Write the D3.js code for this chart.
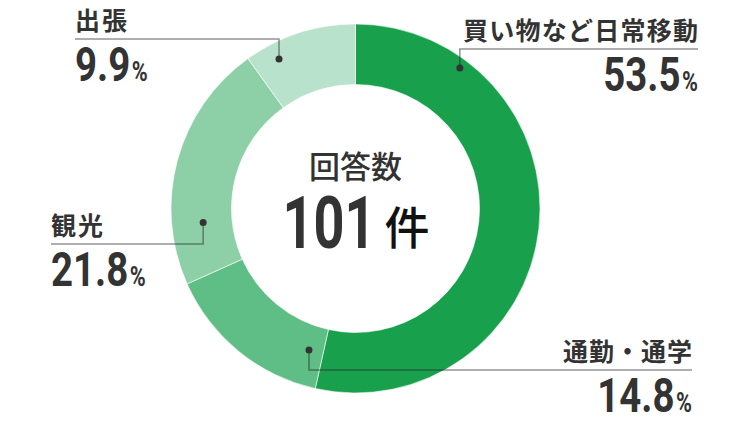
<!DOCTYPE html>
<html>
<head>
<meta charset="utf-8">
<script src="https://cdn.jsdelivr.net/npm/d3@7"></script>
<style>
  html, body { margin: 0; padding: 0; background: #fff; }
  svg { display: block; }
</style>
</head>
<body>
<div id="chart"></div>
<script>
// data
const categories = ['買い物など日常移動', '通勤・通学', '観光', '出張'];
const values = [53.5, 14.8, 21.8, 9.9];
const centerTitle = '回答数';
const centerCount = 101;
const centerUnit = '件';

const colors = ['#18a04d', '#5fbe85', '#8dd0a8', '#b9e2cc'];

// where each leader starts inside its slice (t = fraction of slice), and where its label goes
const labelLayout = [
    { t: 0.19, r: 175, lineY: 49, textX: 698, anchor: 'end', w: 235 },
    { t: 0.105, r: 149, lineY: 370, textX: 692, anchor: 'end', w: 129 },
    { t: 0.24, r: 153, lineY: 244, textX: 51, anchor: 'start', w: 52 },
    { t: 0.24, r: 168, lineY: 39, textX: 75, anchor: 'start', w: 52 }
];

const width = 750, height = 422;
const cx = 355.5, cy = 208.5;
const outerR = 184.5, innerR = 124;

const jpFont = '"Noto Sans CJK JP", "Noto Sans", sans-serif';
const numFont = 'Roboto, "Liberation Sans", sans-serif';
const textColor = '#333';

const svg = d3.select('#chart').append('svg')
    .attr('width', width)
    .attr('height', height);

const pie = d3.pie().sort(null).value(d => d.value);
const arcs = pie(categories.map((c, i) => ({ name: c, value: values[i] })));

const arc = d3.arc().innerRadius(innerR).outerRadius(outerR);

const donut = svg.append('g').attr('transform', `translate(${cx},${cy})`);
donut.selectAll('path')
    .data(arcs)
    .join('path')
    .attr('d', arc)
    .attr('fill', (d, i) => colors[i])
    .attr('stroke', '#fff')
    .attr('stroke-width', 0.6);

// leader lines + dots
const leaders = svg.append('g');
arcs.forEach((d, i) => {
    const L = labelLayout[i];
    const a = d.startAngle + L.t * (d.endAngle - d.startAngle);
    const px = cx + L.r * Math.sin(a);
    const py = cy - L.r * Math.cos(a);
    const farX = L.textX;

    leaders.append('path')
        .attr('d', d3.line()([[px, py], [px, L.lineY], [farX, L.lineY]]))
        .attr('fill', 'none')
        .attr('stroke', 'rgba(40,40,40,0.5)')
        .attr('stroke-width', 1.5);

    leaders.append('circle')
        .attr('cx', px)
        .attr('cy', py)
        .attr('r', 3.5)
        .attr('fill', textColor);

    // category name
    svg.append('text')
        .attr('x', L.textX)
        .attr('y', L.lineY - 9)
        .attr('text-anchor', L.anchor)
        .attr('font-family', jpFont)
        .attr('font-weight', 700)
        .attr('font-size', 25)
        .attr('textLength', L.w)
        .attr('lengthAdjust', 'spacing')
        .attr('fill', textColor)
        .text(d.data.name);

    // percentage (condensed look)
    const pg = svg.append('g')
        .attr('transform', `translate(${L.textX},${L.lineY + 42}) scale(0.8,1)`);
    const t = pg.append('text')
        .attr('x', 0)
        .attr('y', 0)
        .attr('text-anchor', L.anchor)
        .attr('font-family', numFont)
        .attr('font-weight', 700)
        .attr('fill', textColor);
    t.append('tspan').attr('font-size', 48).text(d3.format('.1f')(d.data.value));
    t.append('tspan').attr('font-size', 27).attr('dx', 2).text('%');
});

// center text
svg.append('text')
    .attr('x', cx)
    .attr('y', 178)
    .attr('text-anchor', 'middle')
    .attr('font-family', jpFont)
    .attr('font-weight', 500)
    .attr('font-size', 31)
    .attr('fill', textColor)
    .text(centerTitle);

svg.append('g')
    .attr('transform', `translate(${cx + 20},248) scale(0.75,1)`)
    .append('text')
    .attr('text-anchor', 'end')
    .attr('font-family', numFont)
    .attr('font-weight', 700)
    .attr('font-size', 72)
    .attr('fill', textColor)
    .text(centerCount);

svg.append('text')
    .attr('x', cx + 29)
    .attr('y', 245)
    .attr('font-family', jpFont)
    .attr('font-weight', 500)
    .attr('font-size', 45)
    .attr('fill', '#111')
    .text(centerUnit);
</script>
</body>
</html>
